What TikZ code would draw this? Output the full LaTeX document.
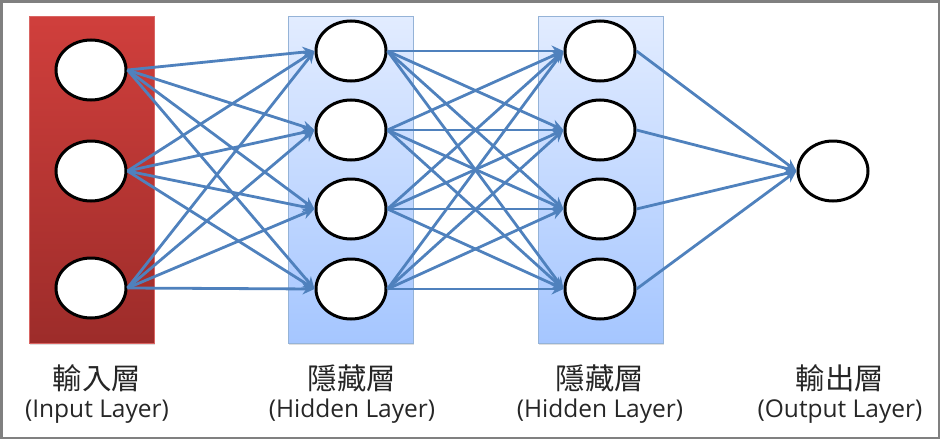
\documentclass[tikz,border=0pt]{standalone}
\usepackage{fontspec}
\setmainfont{Open Sans}
\newfontfamily\cjk{Noto Sans CJK TC}[Scale=1.2]
\usetikzlibrary{arrows.meta,positioning,shapes.geometric,shadows}
\definecolor{linkblue}{RGB}{79,129,189}
\definecolor{redtop}{RGB}{208,63,60}
\definecolor{redbot}{RGB}{157,44,42}
\definecolor{bluetop}{RGB}{226,236,255}
\definecolor{bluebot}{RGB}{165,198,255}
\newcommand{\layertext}[2]{{\cjk #1}\\(#2)}

\begin{document}
\begin{tikzpicture}[x=1pt,y=-1pt,
  neuron/.style={draw,ellipse,fill=white,line width=3pt,minimum width=70pt,minimum height=60pt},
  layerbox/.style={minimum width=125pt,minimum height=327pt,inner sep=0pt,
    drop shadow={opacity=0.25,shadow xshift=1pt,shadow yshift=-2pt}},
  inbox/.style={layerbox,top color=redtop,bottom color=redbot,draw=redtop!80!white,line width=0.5pt},
  hidbox/.style={layerbox,top color=bluetop,bottom color=bluebot,draw=linkblue!60!white,line width=0.7pt},
  link/.style={draw=linkblue,line width=2.8pt,-{Stealth[length=12pt,width=11pt]}},
  caption/.style={align=center,font=\fontsize{24.5}{28}\selectfont,text=black!85}]
  \useasboundingbox (0,0) rectangle (940,439);
  \draw[black!50,line width=2.5pt] (1.25,1.25) rectangle (938.75,437.75);
  % layer boxes
  \node[inbox]  (inL)  at (91.5,179.5) {};
  \node[hidbox] (hidA) at (350.5,179.5) {};
  \node[hidbox] (hidB) at (600.5,179.5) {};
  % neurons
  \foreach \y [count=\i] in {70,171,288}
    \node[neuron] (I-\i) at (91,\y) {};
  \foreach \y [count=\j] in {51,130,209,289} {
    \node[neuron] (H-\j) at (351,\y) {};
    \node[neuron] (G-\j) at (600,\y) {};
  }
  \node[neuron] (O) at (833,171) {};
  % connections
  \foreach \i in {1,2,3}
    \foreach \j in {1,...,4}
      \draw[link] (I-\i.east) -- (H-\j.west);
  \foreach \i in {1,...,4}
    \foreach \j in {1,...,4}
      \draw[link] (H-\i.east) -- (G-\j.west);
  \foreach \i in {1,...,4}
    \draw[link] (G-\i.east) -- (O.west);
  % captions
  \node[caption] (capI) at (97,394) {\layertext{輸入層}{Input Layer}};
  \node[caption] (capH) at (352,394) {\layertext{隱藏層}{Hidden Layer}};
  \node[caption] (capG) at (600,394) {\layertext{隱藏層}{Hidden Layer}};
  \node[caption] (capO) at (840,394) {\layertext{輸出層}{Output Layer}};
\end{tikzpicture}
\end{document}
